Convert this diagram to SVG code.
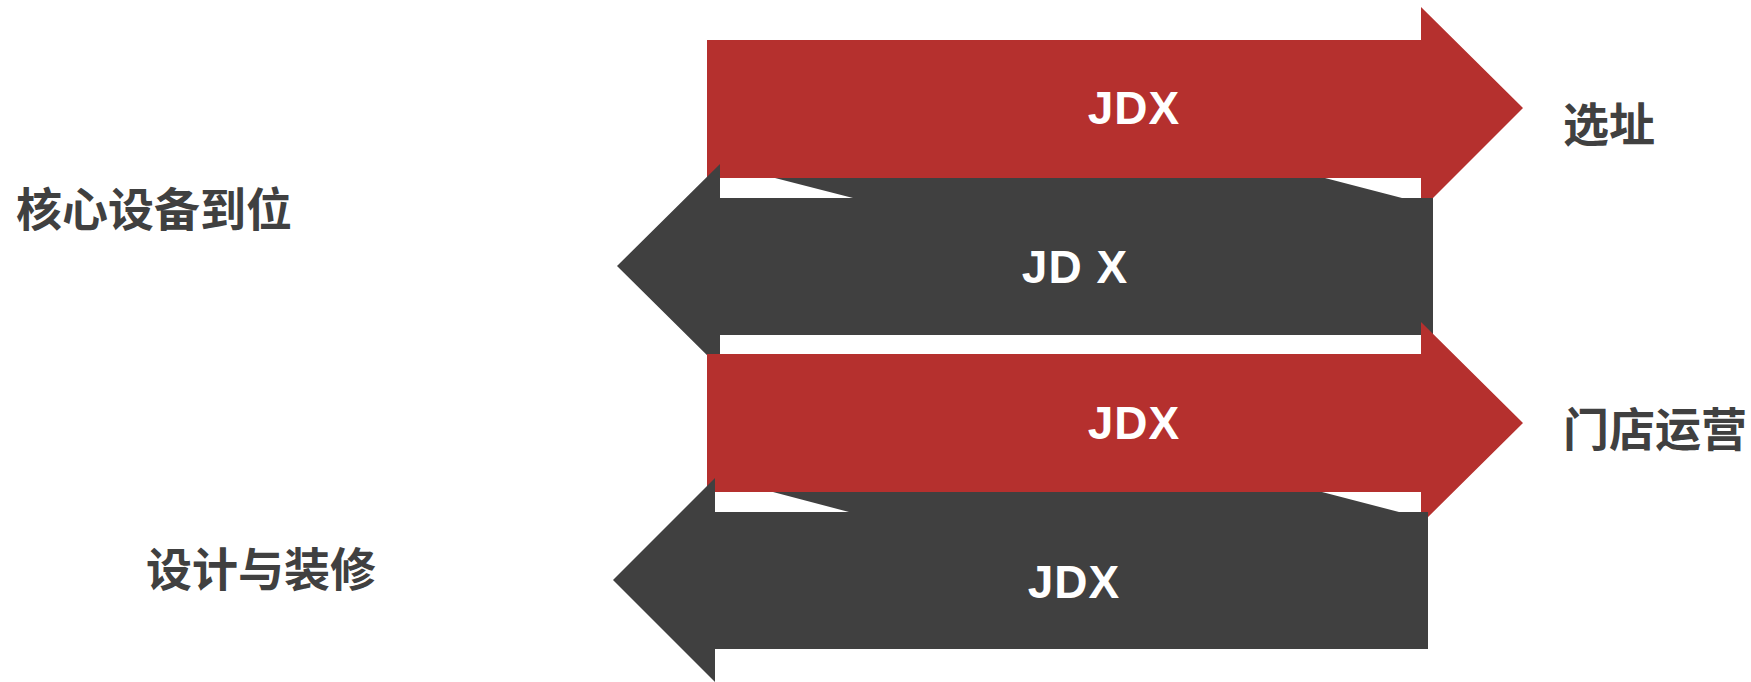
<svg xmlns="http://www.w3.org/2000/svg" width="1751" height="682" viewBox="0 0 1751 682">
<style>
.red{fill:#B5302E}
.dark{fill:#404040}
.in{font-family:"Liberation Sans",Arial,sans-serif;font-weight:bold;font-size:46px;letter-spacing:1px;fill:#ffffff;text-anchor:middle}
.lab{font-family:"Noto Sans CJK SC","Noto Sans",sans-serif;font-weight:bold;font-size:46px;fill:#404040}
</style>
<rect width="1751" height="682" fill="#ffffff"/>
<g id="arrow1">
<polygon class="red" points="707,40 1421,40 1421,7 1523,108 1421,210 1421,178 707,178"/>
<text class="in" x="1134" y="124">JDX</text>
</g>
<g id="arrow2">
<polygon class="dark" points="775,178 1325,178 1402,198 1433,198 1433,335 720,335 720,368 617,266 720,164 720,198 853,198"/>
<text class="in" x="1075" y="283">JD X</text>
</g>
<g id="arrow3">
<polygon class="red" points="707,354 1421,354 1421,322 1523,423 1421,524 1421,492 707,492"/>
<text class="in" x="1134" y="439">JDX</text>
</g>
<g id="arrow4">
<polygon class="dark" points="773,492 1322,492 1399,512 1428,512 1428,649 715,649 715,682 613,580 715,478 715,512 849,512"/>
<text class="in" x="1074" y="598">JDX</text>
</g>
<g id="label-xuanzhi"><text class="lab" x="1563" y="141">选址</text></g>
<g id="label-mendian"><text class="lab" x="1563" y="446">门店运营</text></g>
<g id="label-hexin"><text class="lab" x="16" y="226">核心设备到位</text></g>
<g id="label-sheji"><text class="lab" x="146" y="586">设计与装修</text></g>
<g id="connectors"></g>
</svg>
